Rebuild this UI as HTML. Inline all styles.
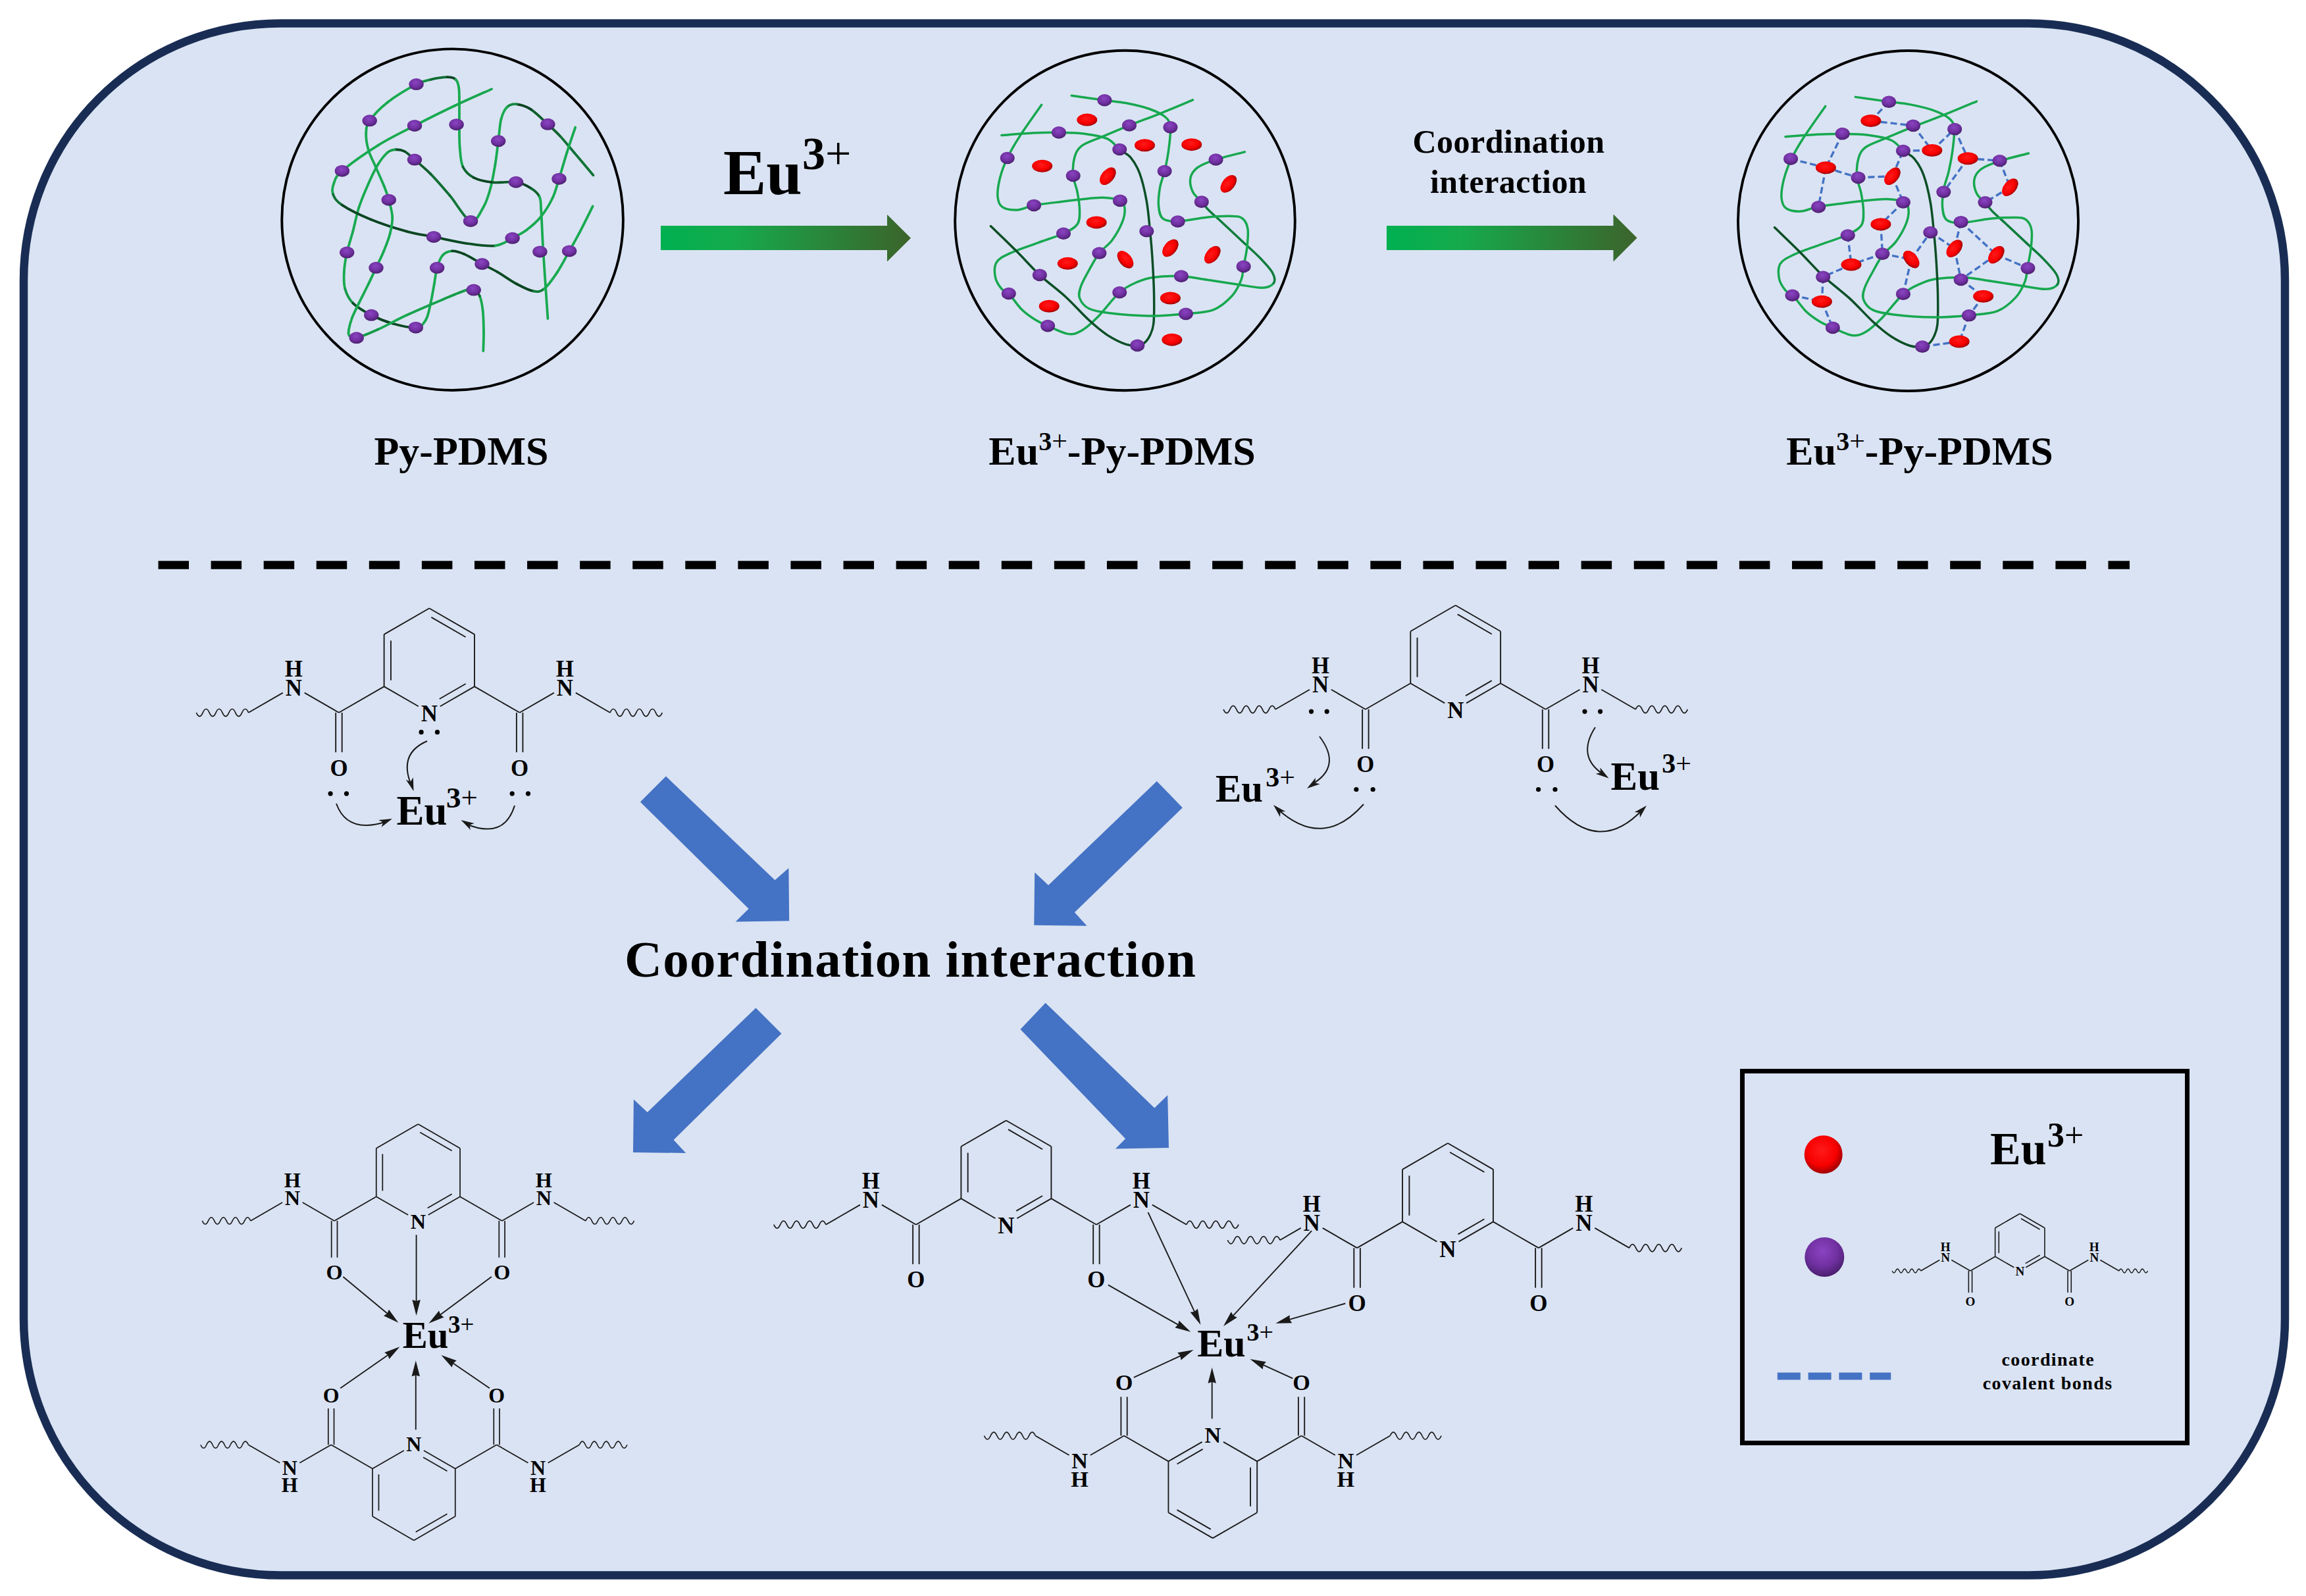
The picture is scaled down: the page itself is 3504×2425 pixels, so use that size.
<!DOCTYPE html>
<html><head><meta charset="utf-8"><style>html,body{margin:0;padding:0;background:#fff;}svg{display:block;}</style></head>
<body><svg width="3504" height="2425" viewBox="0 0 3504 2425">
<defs><radialGradient id="gp" cx="0.45" cy="0.35" r="0.65"><stop offset="0" stop-color="#8a44c2"/><stop offset="0.6" stop-color="#7030a0"/><stop offset="1" stop-color="#4a1f6e"/></radialGradient><radialGradient id="gr" cx="0.45" cy="0.4" r="0.6"><stop offset="0" stop-color="#ff1a1a"/><stop offset="0.65" stop-color="#f80000"/><stop offset="1" stop-color="#a00000"/></radialGradient><linearGradient id="ga1" x1="1004" y1="0" x2="1384" y2="0" gradientUnits="userSpaceOnUse"><stop offset="0" stop-color="#00b050"/><stop offset="0.3" stop-color="#16aa4c"/><stop offset="1" stop-color="#3c632b"/></linearGradient><linearGradient id="ga2" x1="2107" y1="0" x2="2487.5" y2="0" gradientUnits="userSpaceOnUse"><stop offset="0" stop-color="#00b050"/><stop offset="0.3" stop-color="#16aa4c"/><stop offset="1" stop-color="#3c632b"/></linearGradient></defs>
<path d="M426,35.5 L3082,35.5 A390,390 0 0 1 3472,425.5 L3472,2003.5 A390,390 0 0 1 3082,2393.5 L426,2393.5 A390,390 0 0 1 36,2003.5 L36,425.5 A390,390 0 0 1 426,35.5 Z" fill="#dae3f3" stroke="#192d54" stroke-width="12.5"/>
<circle cx="687.6" cy="333.7" r="259.3" fill="none" stroke="#000" stroke-width="3.9"/>
<g transform="translate(400,50) scale(0.36337)">
<g fill="none" stroke-width="10.46" stroke-linecap="round" stroke-linejoin="round">
<path d="M1380,595 C1366.7,579.2 1323.3,527.5 1300,500" stroke="#117336"/>
<path d="M1300,500 C1276.7,472.5 1258.3,449.7 1240,430" stroke="#117136"/>
<path d="M1240,430 C1221.7,410.3 1210.0,400.3 1190,382" stroke="#0f622f"/>
<path d="M1190,382 C1170.0,363.7 1141.7,334.0 1120,320" stroke="#0e5d2c"/>
<path d="M1120,320 C1098.3,306.0 1076.7,299.7 1060,298" stroke="#0b4321"/>
<path d="M1060,298 C1043.3,296.3 1030.8,299.7 1020,310" stroke="#148941"/>
<path d="M1020,310 C1009.2,320.3 1001.2,336.3 995,360" stroke="#18aa50"/>
<path d="M995,360 C988.8,383.7 987.2,420.3 983,452" stroke="#18aa50"/>
<path d="M983,452 C978.8,483.7 975.5,517.0 970,550" stroke="#18aa50"/>
<path d="M970,550 C964.5,583.0 958.3,620.0 950,650" stroke="#18aa50"/>
<path d="M950,650 C941.7,680.0 933.8,707.2 920,730" stroke="#18aa50"/>
<path d="M920,730 C906.2,752.8 890.3,795.3 867,787" stroke="#18aa50"/>
<path d="M867,787 C843.7,778.7 807.8,712.8 780,680" stroke="#117638"/>
<path d="M780,680 C752.2,647.2 724.5,615.0 700,590" stroke="#106e34"/>
<path d="M700,590 C675.5,565.0 651.3,545.8 633,530" stroke="#0e5d2d"/>
<path d="M633,530 C614.7,514.2 603.8,502.0 590,495" stroke="#0d572a"/>
<path d="M590,495 C576.2,488.0 561.7,487.2 550,488" stroke="#0b4923"/>
<path d="M550,488 C538.3,488.8 531.7,489.7 520,500" stroke="#169c49"/>
<path d="M520,500 C508.3,510.3 493.3,528.3 480,550" stroke="#18aa50"/>
<path d="M480,550 C466.7,571.7 453.3,600.0 440,630" stroke="#18aa50"/>
<path d="M440,630 C426.7,660.0 410.8,696.7 400,730" stroke="#18aa50"/>
<path d="M400,730 C389.2,763.3 383.3,798.7 375,830" stroke="#18aa50"/>
<path d="M375,830 C366.7,861.3 356.2,889.7 350,918" stroke="#18aa50"/>
<path d="M350,918 C343.8,946.3 339.3,974.7 338,1000" stroke="#18aa50"/>
<path d="M338,1000 C336.7,1025.3 335.8,1048.3 342,1070" stroke="#18aa50"/>
<path d="M342,1070 C348.2,1091.7 356.7,1111.7 375,1130" stroke="#169948"/>
<path d="M375,1130 C393.3,1148.3 424.5,1165.8 452,1180" stroke="#0c4d25"/>
<path d="M452,1180 C479.5,1194.2 509.0,1206.3 540,1215" stroke="#0b4421"/>
<path d="M540,1215 C571.0,1223.7 614.7,1234.5 638,1232" stroke="#0b4923"/>
<path d="M638,1232 C661.3,1229.5 669.7,1217.0 680,1200" stroke="#18aa50"/>
<path d="M680,1200 C690.3,1183.0 694.2,1155.0 700,1130" stroke="#18aa50"/>
<path d="M700,1130 C705.8,1105.0 710.5,1074.7 715,1050" stroke="#18aa50"/>
<path d="M715,1050 C719.5,1025.3 721.2,1002.0 727,982" stroke="#18aa50"/>
<path d="M727,982 C732.8,962.0 739.5,941.7 750,930" stroke="#18aa50"/>
<path d="M750,930 C760.5,918.3 775.0,912.8 790,912" stroke="#17a64e"/>
<path d="M790,912 C805.0,911.2 819.2,916.0 840,925" stroke="#0b4521"/>
<path d="M840,925 C860.8,934.0 891.7,953.5 915,966" stroke="#0b4822"/>
<path d="M915,966 C938.3,978.5 955.8,986.0 980,1000" stroke="#0b4722"/>
<path d="M980,1000 C1004.2,1014.0 1035.0,1036.7 1060,1050" stroke="#0c4b24"/>
<path d="M1060,1050 C1085.0,1063.3 1110.8,1076.7 1130,1080" stroke="#0b4421"/>
<path d="M1130,1080 C1149.2,1083.3 1158.3,1083.3 1175,1070" stroke="#127b3a"/>
<path d="M1175,1070 C1191.7,1056.7 1212.5,1026.3 1230,1000" stroke="#18aa50"/>
<path d="M1230,1000 C1247.5,973.7 1265.0,938.7 1280,912" stroke="#18aa50"/>
<path d="M1280,912 C1295.0,885.3 1303.7,871.2 1320,840" stroke="#18aa50"/>
<path d="M1320,840 C1336.3,808.8 1368.3,744.2 1378,725" stroke="#18aa50"/>
<path d="M955,235 C929.2,246.7 853.7,279.5 800,305" stroke="#18a64e"/>
<path d="M800,305 C746.3,330.5 686.3,360.5 633,388" stroke="#18aa50"/>
<path d="M633,388 C579.7,415.5 530.5,438.5 480,470" stroke="#18aa50"/>
<path d="M480,470 C429.5,501.5 360.8,550.3 330,577" stroke="#18aa50"/>
<path d="M330,577 C299.2,603.7 301.3,613.7 295,630" stroke="#18aa50"/>
<path d="M295,630 C288.7,646.3 286.2,660.0 292,675" stroke="#18aa50"/>
<path d="M292,675 C297.8,690.0 303.7,702.5 330,720" stroke="#117236"/>
<path d="M330,720 C356.3,737.5 405.0,761.7 450,780" stroke="#0b4622"/>
<path d="M450,780 C495.0,798.3 556.2,817.8 600,830" stroke="#0b4421"/>
<path d="M600,830 C643.8,842.2 671.3,844.7 713,853" stroke="#0b4722"/>
<path d="M713,853 C754.7,861.3 807.2,873.8 850,880" stroke="#0b4823"/>
<path d="M850,880 C892.8,886.2 938.0,893.7 970,890" stroke="#0c5026"/>
<path d="M970,890 C1002.0,886.3 1020.3,868.8 1042,858" stroke="#17a54e"/>
<path d="M1042,858 C1063.7,847.2 1080.3,839.7 1100,825" stroke="#18aa50"/>
<path d="M1100,825 C1119.7,810.3 1141.7,792.5 1160,770" stroke="#18aa50"/>
<path d="M1160,770 C1178.3,747.5 1197.2,716.7 1210,690" stroke="#18aa50"/>
<path d="M1210,690 C1222.8,663.3 1227.0,641.7 1237,610" stroke="#18aa50"/>
<path d="M1237,610 C1247.0,578.3 1258.7,535.8 1270,500" stroke="#18aa50"/>
<path d="M1270,500 C1281.3,464.2 1299.2,412.5 1305,395" stroke="#18aa50"/>
<path d="M920,1330 C920.3,1316.7 922.3,1278.3 922,1250" stroke="#18aa50"/>
<path d="M922,1250 C921.7,1221.7 920.8,1185.0 918,1160" stroke="#18aa50"/>
<path d="M918,1160 C915.2,1135.0 911.3,1114.2 905,1100" stroke="#18aa50"/>
<path d="M905,1100 C898.7,1085.8 889.2,1079.2 880,1075" stroke="#0f6530"/>
<path d="M880,1075 C870.8,1070.8 871.7,1068.3 850,1075" stroke="#0e592b"/>
<path d="M850,1075 C828.3,1081.7 791.7,1097.5 750,1115" stroke="#169c49"/>
<path d="M750,1115 C708.3,1132.5 645.0,1159.2 600,1180" stroke="#17a24d"/>
<path d="M600,1180 C555.0,1200.8 515.0,1224.2 480,1240" stroke="#18aa50"/>
<path d="M480,1240 C445.0,1255.8 410.0,1270.8 390,1275" stroke="#169a48"/>
<path d="M390,1275 C370.0,1279.2 365.3,1270.8 360,1265" stroke="#0b4421"/>
<path d="M360,1265 C354.7,1259.2 356.0,1252.5 358,1240" stroke="#18aa50"/>
<path d="M358,1240 C360.0,1227.5 365.0,1208.3 372,1190" stroke="#18aa50"/>
<path d="M372,1190 C379.0,1171.7 388.7,1153.3 400,1130" stroke="#18aa50"/>
<path d="M400,1130 C411.3,1106.7 428.0,1074.7 440,1050" stroke="#18aa50"/>
<path d="M440,1050 C452.0,1025.3 461.2,1005.3 472,982" stroke="#18aa50"/>
<path d="M472,982 C482.8,958.7 495.3,933.7 505,910" stroke="#18aa50"/>
<path d="M505,910 C514.7,886.3 524.2,863.3 530,840" stroke="#18aa50"/>
<path d="M530,840 C535.8,816.7 540.8,793.7 540,770" stroke="#18aa50"/>
<path d="M540,770 C539.2,746.3 530.8,719.7 525,698" stroke="#18aa50"/>
<path d="M525,698 C519.2,676.3 514.2,663.0 505,640" stroke="#18aa50"/>
<path d="M505,640 C495.8,617.0 480.8,585.0 470,560" stroke="#18aa50"/>
<path d="M470,560 C459.2,535.0 446.7,513.3 440,490" stroke="#18aa50"/>
<path d="M440,490 C433.3,466.7 429.2,440.5 430,420" stroke="#18aa50"/>
<path d="M430,420 C430.8,399.5 430.0,388.7 445,367" stroke="#18aa50"/>
<path d="M445,367 C460.0,345.3 487.5,315.3 520,290" stroke="#18aa50"/>
<path d="M520,290 C552.5,264.7 610.0,230.8 640,215" stroke="#18aa50"/>
<path d="M640,215 C670.0,199.2 678.3,200.0 700,195" stroke="#148f43"/>
<path d="M700,195 C721.7,190.0 752.5,185.0 770,185" stroke="#106e34"/>
<path d="M770,185 C787.5,185.0 797.0,187.5 805,195" stroke="#0b4421"/>
<path d="M805,195 C813.0,202.5 815.5,212.5 818,230" stroke="#18aa50"/>
<path d="M818,230 C820.5,247.5 819.7,271.7 820,300" stroke="#18aa50"/>
<path d="M820,300 C820.3,328.3 819.7,370.0 820,400" stroke="#18aa50"/>
<path d="M820,400 C820.3,430.0 819.5,453.3 822,480" stroke="#18aa50"/>
<path d="M822,480 C824.5,506.7 825.3,539.2 835,560" stroke="#18aa50"/>
<path d="M835,560 C844.7,580.8 859.2,594.2 880,605" stroke="#0f6530"/>
<path d="M880,605 C900.8,615.8 930.5,621.8 960,625" stroke="#0b4521"/>
<path d="M960,625 C989.5,628.2 1030.3,619.8 1057,624" stroke="#0e5b2b"/>
<path d="M1057,624 C1083.7,628.2 1103.7,639.8 1120,650" stroke="#0b4421"/>
<path d="M1120,650 C1136.3,660.2 1148.0,670.0 1155,685" stroke="#0f6530"/>
<path d="M1155,685 C1162.0,700.0 1159.5,704.2 1162,740" stroke="#18aa50"/>
<path d="M1162,740 C1164.5,775.8 1167.0,848.3 1170,900" stroke="#18aa50"/>
<path d="M1170,900 C1173.0,951.7 1176.7,1000.8 1180,1050" stroke="#18aa50"/>
<path d="M1180,1050 C1183.3,1099.2 1188.3,1170.8 1190,1195" stroke="#18aa50"/>
</g>
<ellipse cx="640" cy="215" rx="30.822399999999995" ry="24.767999999999997" fill="url(#gp)"/>
<ellipse cx="445" cy="367" rx="30.822399999999995" ry="24.767999999999997" fill="url(#gp)"/>
<ellipse cx="633" cy="388" rx="30.822399999999995" ry="24.767999999999997" fill="url(#gp)"/>
<ellipse cx="808" cy="383" rx="30.822399999999995" ry="24.767999999999997" fill="url(#gp)"/>
<ellipse cx="1190" cy="382" rx="30.822399999999995" ry="24.767999999999997" fill="url(#gp)"/>
<ellipse cx="983" cy="452" rx="30.822399999999995" ry="24.767999999999997" fill="url(#gp)"/>
<ellipse cx="330" cy="577" rx="30.822399999999995" ry="24.767999999999997" fill="url(#gp)"/>
<ellipse cx="633" cy="530" rx="30.822399999999995" ry="24.767999999999997" fill="url(#gp)"/>
<ellipse cx="1057" cy="624" rx="30.822399999999995" ry="24.767999999999997" fill="url(#gp)"/>
<ellipse cx="1237" cy="610" rx="30.822399999999995" ry="24.767999999999997" fill="url(#gp)"/>
<ellipse cx="525" cy="698" rx="30.822399999999995" ry="24.767999999999997" fill="url(#gp)"/>
<ellipse cx="867" cy="787" rx="30.822399999999995" ry="24.767999999999997" fill="url(#gp)"/>
<ellipse cx="713" cy="853" rx="30.822399999999995" ry="24.767999999999997" fill="url(#gp)"/>
<ellipse cx="1042" cy="858" rx="30.822399999999995" ry="24.767999999999997" fill="url(#gp)"/>
<ellipse cx="350" cy="918" rx="30.822399999999995" ry="24.767999999999997" fill="url(#gp)"/>
<ellipse cx="1157" cy="915" rx="30.822399999999995" ry="24.767999999999997" fill="url(#gp)"/>
<ellipse cx="1280" cy="912" rx="30.822399999999995" ry="24.767999999999997" fill="url(#gp)"/>
<ellipse cx="472" cy="982" rx="30.822399999999995" ry="24.767999999999997" fill="url(#gp)"/>
<ellipse cx="727" cy="982" rx="30.822399999999995" ry="24.767999999999997" fill="url(#gp)"/>
<ellipse cx="915" cy="966" rx="30.822399999999995" ry="24.767999999999997" fill="url(#gp)"/>
<ellipse cx="880" cy="1075" rx="30.822399999999995" ry="24.767999999999997" fill="url(#gp)"/>
<ellipse cx="452" cy="1180" rx="30.822399999999995" ry="24.767999999999997" fill="url(#gp)"/>
<ellipse cx="638" cy="1232" rx="30.822399999999995" ry="24.767999999999997" fill="url(#gp)"/>
<ellipse cx="390" cy="1275" rx="30.822399999999995" ry="24.767999999999997" fill="url(#gp)"/>
</g>
<circle cx="1709.5" cy="335" r="258.3" fill="none" stroke="#000" stroke-width="3.9"/>
<g transform="translate(1430,60) scale(0.35088)">
<g fill="none" stroke-width="9.97" stroke-linecap="round" stroke-linejoin="round">
<path d="M1090,262 C1066.7,271.7 995.8,301.7 950,320 C904.2,338.3 856.7,355.3 815,372 C773.3,388.7 734.2,405.3 700,420 C665.8,434.7 630.3,445.0 610,460 C589.7,475.0 584.3,488.3 578,510 C571.7,531.7 570.0,565.0 572,590 C574.0,615.0 585.3,635.0 590,660 C594.7,685.0 600.0,716.7 600,740 C600.0,763.3 601.7,783.3 590,800 C578.3,816.7 558.3,826.7 530,840 C501.7,853.3 458.3,865.8 420,880 C381.7,894.2 330.0,910.8 300,925 C270.0,939.2 250.8,947.5 240,965 C229.2,982.5 231.3,1010.8 235,1030 C238.7,1049.2 252.3,1068.3 262,1080 C271.7,1091.7 278.3,1085.0 293,1100 C307.7,1115.0 330.5,1150.8 350,1170 C369.5,1189.2 391.3,1203.3 410,1215 C428.7,1226.7 438.7,1230.0 462,1240 C485.3,1250.0 525.3,1271.7 550,1275 C574.7,1278.3 588.3,1272.5 610,1260 C631.7,1247.5 652.8,1227.5 680,1200 C707.2,1172.5 744.7,1120.0 773,1095 C801.3,1070.0 825.5,1060.8 850,1050 C874.5,1039.2 888.3,1034.2 920,1030 C951.7,1025.8 1001.7,1023.3 1040,1025 C1078.3,1026.7 1110.0,1034.2 1150,1040 C1190.0,1045.8 1240.0,1054.2 1280,1060 C1320.0,1065.8 1363.3,1075.8 1390,1075 C1416.7,1074.2 1432.5,1065.8 1440,1055" stroke="#17a84f"/>
<path d="M1440,1055 C1447.5,1044.2 1445.0,1028.3 1435,1010 C1425.0,991.7 1402.5,968.3 1380,945 C1357.5,921.7 1326.7,895.0 1300,870 C1273.3,845.0 1243.3,816.7 1220,795 C1196.7,773.3 1175.3,755.3 1160,740 C1144.7,724.7 1139.7,716.3 1128,703" stroke="#0f7d3b"/>
<path d="M1128,703 C1116.3,689.7 1098.0,677.2 1090,660 C1082.0,642.8 1076.7,617.5 1080,600 C1083.3,582.5 1091.7,568.3 1110,555 C1128.3,541.7 1155.8,531.3 1190,520 C1224.2,508.7 1294.2,492.5 1315,487" stroke="#17a84f"/>
<path d="M262,415 C285.0,413.3 358.7,407.0 400,405 C441.3,403.0 473.3,402.5 510,403 C546.7,403.5 585.0,403.5 620,408 C655.0,412.5 694.5,418.7 720,430 C745.5,441.3 756.3,462.7 773,476" stroke="#17a84f"/>
<path d="M773,476 C789.7,489.3 805.5,492.7 820,510 C834.5,527.3 848.3,548.3 860,580 C871.7,611.7 882.5,658.3 890,700 C897.5,741.7 900.8,788.3 905,830 C909.2,871.7 912.2,905.0 915,950 C917.8,995.0 921.2,1053.3 922,1100 C922.8,1146.7 923.7,1198.3 920,1230 C916.3,1261.7 908.3,1274.7 900,1290 C891.7,1305.3 878.3,1316.2 870,1322 C861.7,1327.8 861.7,1325.3 850,1325 C838.3,1324.7 821.7,1327.5 800,1320 C778.3,1312.5 746.7,1297.5 720,1280 C693.3,1262.5 670.0,1242.5 640,1215 C610.0,1187.5 575.5,1147.5 540,1115 C504.5,1082.5 462.0,1052.5 427,1020 C392.0,987.5 365.3,955.3 330,920 C294.7,884.7 234.2,826.7 215,808" stroke="#0c4f26"/>
<path d="M435,283 C419.2,305.8 364.7,381.7 340,420 C315.3,458.3 301.2,483.0 287,513 C272.8,543.0 262.0,572.2 255,600 C248.0,627.8 243.3,659.2 245,680 C246.7,700.8 250.8,715.3 265,725 C279.2,734.7 307.2,739.2 330,738 C352.8,736.8 373.7,723.5 402,718 C430.3,712.5 467.0,709.2 500,705 C533.0,700.8 566.7,696.3 600,693 C633.3,689.7 670.8,684.2 700,685 C729.2,685.8 759.2,690.5 775,698 C790.8,705.5 793.3,714.7 795,730 C796.7,745.3 794.2,766.7 785,790 C775.8,813.3 756.7,847.5 740,870 C723.3,892.5 701.7,903.3 685,925 C668.3,946.7 653.3,975.8 640,1000 C626.7,1024.2 611.7,1050.0 605,1070 C598.3,1090.0 594.2,1104.2 600,1120 C605.8,1135.8 618.3,1154.2 640,1165 C661.7,1175.8 686.7,1179.7 730,1185 C773.3,1190.3 845.0,1196.5 900,1197 C955.0,1197.5 1013.3,1192.5 1060,1188 C1106.7,1183.5 1146.7,1183.0 1180,1170 C1213.3,1157.0 1240.0,1131.7 1260,1110 C1280.0,1088.3 1291.7,1061.2 1300,1040 C1308.3,1018.8 1305.8,1006.3 1310,983 C1314.2,959.7 1322.0,927.2 1325,900 C1328.0,872.8 1331.3,840.8 1328,820 C1324.7,799.2 1316.3,784.2 1305,775 C1293.7,765.8 1285.8,765.8 1260,765 C1234.2,764.2 1189.2,766.2 1150,770 C1110.8,773.8 1056.7,787.2 1025,788 C993.3,788.8 973.8,786.3 960,775 C946.2,763.7 944.0,742.5 942,720 C940.0,697.5 943.7,665.0 948,640 C952.3,615.0 961.8,596.7 968,570 C974.2,543.3 980.8,511.7 985,480 C989.2,448.3 995.5,404.2 993,380 C990.5,355.8 985.5,348.3 970,335 C954.5,321.7 928.3,310.0 900,300 C871.7,290.0 832.0,281.2 800,275 C768.0,268.8 747.2,268.3 708,263 C668.8,257.7 588.8,246.3 565,243" stroke="#17a84f"/>
</g>
<ellipse cx="0" cy="0" rx="44.175000000000004" ry="27.075" fill="url(#gr)" transform="translate(632,348) rotate(0)"/>
<ellipse cx="0" cy="0" rx="44.175000000000004" ry="27.075" fill="url(#gr)" transform="translate(882,458) rotate(0)"/>
<ellipse cx="0" cy="0" rx="44.175000000000004" ry="27.075" fill="url(#gr)" transform="translate(1085,455) rotate(0)"/>
<ellipse cx="0" cy="0" rx="44.175000000000004" ry="27.075" fill="url(#gr)" transform="translate(438,548) rotate(0)"/>
<ellipse cx="0" cy="0" rx="44.175000000000004" ry="27.075" fill="url(#gr)" transform="translate(722,592) rotate(-50)"/>
<ellipse cx="0" cy="0" rx="44.175000000000004" ry="27.075" fill="url(#gr)" transform="translate(1245,625) rotate(-50)"/>
<ellipse cx="0" cy="0" rx="44.175000000000004" ry="27.075" fill="url(#gr)" transform="translate(673,792) rotate(0)"/>
<ellipse cx="0" cy="0" rx="44.175000000000004" ry="27.075" fill="url(#gr)" transform="translate(993,903) rotate(-50)"/>
<ellipse cx="0" cy="0" rx="44.175000000000004" ry="27.075" fill="url(#gr)" transform="translate(1175,932) rotate(-50)"/>
<ellipse cx="0" cy="0" rx="44.175000000000004" ry="27.075" fill="url(#gr)" transform="translate(798,953) rotate(50)"/>
<ellipse cx="0" cy="0" rx="44.175000000000004" ry="27.075" fill="url(#gr)" transform="translate(548,970) rotate(0)"/>
<ellipse cx="0" cy="0" rx="44.175000000000004" ry="27.075" fill="url(#gr)" transform="translate(993,1120) rotate(0)"/>
<ellipse cx="0" cy="0" rx="44.175000000000004" ry="27.075" fill="url(#gr)" transform="translate(468,1155) rotate(0)"/>
<ellipse cx="0" cy="0" rx="44.175000000000004" ry="27.075" fill="url(#gr)" transform="translate(1000,1300) rotate(0)"/>
<ellipse cx="708" cy="263" rx="31.35" ry="26.505000000000003" fill="url(#gp)"/>
<ellipse cx="815" cy="372" rx="31.35" ry="26.505000000000003" fill="url(#gp)"/>
<ellipse cx="993" cy="380" rx="31.35" ry="26.505000000000003" fill="url(#gp)"/>
<ellipse cx="510" cy="403" rx="31.35" ry="26.505000000000003" fill="url(#gp)"/>
<ellipse cx="773" cy="476" rx="31.35" ry="26.505000000000003" fill="url(#gp)"/>
<ellipse cx="287" cy="513" rx="31.35" ry="26.505000000000003" fill="url(#gp)"/>
<ellipse cx="1190" cy="520" rx="31.35" ry="26.505000000000003" fill="url(#gp)"/>
<ellipse cx="572" cy="590" rx="31.35" ry="26.505000000000003" fill="url(#gp)"/>
<ellipse cx="968" cy="570" rx="31.35" ry="26.505000000000003" fill="url(#gp)"/>
<ellipse cx="1128" cy="703" rx="31.35" ry="26.505000000000003" fill="url(#gp)"/>
<ellipse cx="402" cy="718" rx="31.35" ry="26.505000000000003" fill="url(#gp)"/>
<ellipse cx="775" cy="698" rx="31.35" ry="26.505000000000003" fill="url(#gp)"/>
<ellipse cx="1025" cy="788" rx="31.35" ry="26.505000000000003" fill="url(#gp)"/>
<ellipse cx="530" cy="840" rx="31.35" ry="26.505000000000003" fill="url(#gp)"/>
<ellipse cx="890" cy="830" rx="31.35" ry="26.505000000000003" fill="url(#gp)"/>
<ellipse cx="685" cy="925" rx="31.35" ry="26.505000000000003" fill="url(#gp)"/>
<ellipse cx="1310" cy="983" rx="31.35" ry="26.505000000000003" fill="url(#gp)"/>
<ellipse cx="427" cy="1020" rx="31.35" ry="26.505000000000003" fill="url(#gp)"/>
<ellipse cx="1040" cy="1025" rx="31.35" ry="26.505000000000003" fill="url(#gp)"/>
<ellipse cx="293" cy="1100" rx="31.35" ry="26.505000000000003" fill="url(#gp)"/>
<ellipse cx="773" cy="1095" rx="31.35" ry="26.505000000000003" fill="url(#gp)"/>
<ellipse cx="1060" cy="1188" rx="31.35" ry="26.505000000000003" fill="url(#gp)"/>
<ellipse cx="462" cy="1240" rx="31.35" ry="26.505000000000003" fill="url(#gp)"/>
<ellipse cx="850" cy="1325" rx="31.35" ry="26.505000000000003" fill="url(#gp)"/>
</g>
<circle cx="2899.5" cy="335.5" r="258.5" fill="none" stroke="#000" stroke-width="3.9"/>
<g transform="translate(2620,60) scale(0.35088)">
<g transform="translate(3,6)"><g fill="none" stroke-width="9.97" stroke-linecap="round" stroke-linejoin="round">
<path d="M1090,262 C1066.7,271.7 995.8,301.7 950,320 C904.2,338.3 856.7,355.3 815,372 C773.3,388.7 734.2,405.3 700,420 C665.8,434.7 630.3,445.0 610,460 C589.7,475.0 584.3,488.3 578,510 C571.7,531.7 570.0,565.0 572,590 C574.0,615.0 585.3,635.0 590,660 C594.7,685.0 600.0,716.7 600,740 C600.0,763.3 601.7,783.3 590,800 C578.3,816.7 558.3,826.7 530,840 C501.7,853.3 458.3,865.8 420,880 C381.7,894.2 330.0,910.8 300,925 C270.0,939.2 250.8,947.5 240,965 C229.2,982.5 231.3,1010.8 235,1030 C238.7,1049.2 252.3,1068.3 262,1080 C271.7,1091.7 278.3,1085.0 293,1100 C307.7,1115.0 330.5,1150.8 350,1170 C369.5,1189.2 391.3,1203.3 410,1215 C428.7,1226.7 438.7,1230.0 462,1240 C485.3,1250.0 525.3,1271.7 550,1275 C574.7,1278.3 588.3,1272.5 610,1260 C631.7,1247.5 652.8,1227.5 680,1200 C707.2,1172.5 744.7,1120.0 773,1095 C801.3,1070.0 825.5,1060.8 850,1050 C874.5,1039.2 888.3,1034.2 920,1030 C951.7,1025.8 1001.7,1023.3 1040,1025 C1078.3,1026.7 1110.0,1034.2 1150,1040 C1190.0,1045.8 1240.0,1054.2 1280,1060 C1320.0,1065.8 1363.3,1075.8 1390,1075 C1416.7,1074.2 1432.5,1065.8 1440,1055" stroke="#17a84f"/>
<path d="M1440,1055 C1447.5,1044.2 1445.0,1028.3 1435,1010 C1425.0,991.7 1402.5,968.3 1380,945 C1357.5,921.7 1326.7,895.0 1300,870 C1273.3,845.0 1243.3,816.7 1220,795 C1196.7,773.3 1175.3,755.3 1160,740 C1144.7,724.7 1139.7,716.3 1128,703" stroke="#0f7d3b"/>
<path d="M1128,703 C1116.3,689.7 1098.0,677.2 1090,660 C1082.0,642.8 1076.7,617.5 1080,600 C1083.3,582.5 1091.7,568.3 1110,555 C1128.3,541.7 1155.8,531.3 1190,520 C1224.2,508.7 1294.2,492.5 1315,487" stroke="#17a84f"/>
<path d="M262,415 C285.0,413.3 358.7,407.0 400,405 C441.3,403.0 473.3,402.5 510,403 C546.7,403.5 585.0,403.5 620,408 C655.0,412.5 694.5,418.7 720,430 C745.5,441.3 756.3,462.7 773,476" stroke="#17a84f"/>
<path d="M773,476 C789.7,489.3 805.5,492.7 820,510 C834.5,527.3 848.3,548.3 860,580 C871.7,611.7 882.5,658.3 890,700 C897.5,741.7 900.8,788.3 905,830 C909.2,871.7 912.2,905.0 915,950 C917.8,995.0 921.2,1053.3 922,1100 C922.8,1146.7 923.7,1198.3 920,1230 C916.3,1261.7 908.3,1274.7 900,1290 C891.7,1305.3 878.3,1316.2 870,1322 C861.7,1327.8 861.7,1325.3 850,1325 C838.3,1324.7 821.7,1327.5 800,1320 C778.3,1312.5 746.7,1297.5 720,1280 C693.3,1262.5 670.0,1242.5 640,1215 C610.0,1187.5 575.5,1147.5 540,1115 C504.5,1082.5 462.0,1052.5 427,1020 C392.0,987.5 365.3,955.3 330,920 C294.7,884.7 234.2,826.7 215,808" stroke="#0c4f26"/>
<path d="M435,283 C419.2,305.8 364.7,381.7 340,420 C315.3,458.3 301.2,483.0 287,513 C272.8,543.0 262.0,572.2 255,600 C248.0,627.8 243.3,659.2 245,680 C246.7,700.8 250.8,715.3 265,725 C279.2,734.7 307.2,739.2 330,738 C352.8,736.8 373.7,723.5 402,718 C430.3,712.5 467.0,709.2 500,705 C533.0,700.8 566.7,696.3 600,693 C633.3,689.7 670.8,684.2 700,685 C729.2,685.8 759.2,690.5 775,698 C790.8,705.5 793.3,714.7 795,730 C796.7,745.3 794.2,766.7 785,790 C775.8,813.3 756.7,847.5 740,870 C723.3,892.5 701.7,903.3 685,925 C668.3,946.7 653.3,975.8 640,1000 C626.7,1024.2 611.7,1050.0 605,1070 C598.3,1090.0 594.2,1104.2 600,1120 C605.8,1135.8 618.3,1154.2 640,1165 C661.7,1175.8 686.7,1179.7 730,1185 C773.3,1190.3 845.0,1196.5 900,1197 C955.0,1197.5 1013.3,1192.5 1060,1188 C1106.7,1183.5 1146.7,1183.0 1180,1170 C1213.3,1157.0 1240.0,1131.7 1260,1110 C1280.0,1088.3 1291.7,1061.2 1300,1040 C1308.3,1018.8 1305.8,1006.3 1310,983 C1314.2,959.7 1322.0,927.2 1325,900 C1328.0,872.8 1331.3,840.8 1328,820 C1324.7,799.2 1316.3,784.2 1305,775 C1293.7,765.8 1285.8,765.8 1260,765 C1234.2,764.2 1189.2,766.2 1150,770 C1110.8,773.8 1056.7,787.2 1025,788 C993.3,788.8 973.8,786.3 960,775 C946.2,763.7 944.0,742.5 942,720 C940.0,697.5 943.7,665.0 948,640 C952.3,615.0 961.8,596.7 968,570 C974.2,543.3 980.8,511.7 985,480 C989.2,448.3 995.5,404.2 993,380 C990.5,355.8 985.5,348.3 970,335 C954.5,321.7 928.3,310.0 900,300 C871.7,290.0 832.0,281.2 800,275 C768.0,268.8 747.2,268.3 708,263 C668.8,257.7 588.8,246.3 565,243" stroke="#17a84f"/>
</g></g>
<path d="M713,270 L635,352 M635,352 L818,373 M818,373 L900,480 M900,480 L998,388 M775,482 L900,480 M998,388 L1055,515 M1055,515 L1193,525 M1193,525 L1238,640 M1238,640 L1130,705 M1055,515 L950,660 M512,408 L440,555 M288,517 L440,555 M440,555 L580,598 M440,555 L408,725 M580,598 L728,592 M728,592 L775,482 M728,592 L775,705 M775,705 L678,800 M678,800 L685,928 M685,928 L550,975 M535,848 L550,975 M550,975 L428,1028 M685,928 L810,952 M810,952 L893,835 M810,952 L775,1102 M893,835 L997,905 M1025,790 L997,905 M997,905 L1025,1040 M1025,790 L1178,932 M1178,932 L1315,990 M1178,932 L1025,1040 M1025,1040 L1122,1112 M1122,1112 L1060,1195 M1060,1195 L1018,1308 M1018,1308 L858,1330 M428,1028 L423,1135 M295,1108 L423,1135 M423,1135 L470,1248" fill="none" stroke="#4472c4" stroke-width="9.7" stroke-dasharray="28.5 14.2"/>
<ellipse cx="0" cy="0" rx="44.175000000000004" ry="27.075" fill="url(#gr)" transform="translate(635,352) rotate(0)"/>
<ellipse cx="0" cy="0" rx="44.175000000000004" ry="27.075" fill="url(#gr)" transform="translate(900,480) rotate(0)"/>
<ellipse cx="0" cy="0" rx="44.175000000000004" ry="27.075" fill="url(#gr)" transform="translate(1055,515) rotate(0)"/>
<ellipse cx="0" cy="0" rx="44.175000000000004" ry="27.075" fill="url(#gr)" transform="translate(440,555) rotate(0)"/>
<ellipse cx="0" cy="0" rx="44.175000000000004" ry="27.075" fill="url(#gr)" transform="translate(728,592) rotate(-50)"/>
<ellipse cx="0" cy="0" rx="44.175000000000004" ry="27.075" fill="url(#gr)" transform="translate(1238,640) rotate(-50)"/>
<ellipse cx="0" cy="0" rx="44.175000000000004" ry="27.075" fill="url(#gr)" transform="translate(678,800) rotate(0)"/>
<ellipse cx="0" cy="0" rx="44.175000000000004" ry="27.075" fill="url(#gr)" transform="translate(997,905) rotate(-50)"/>
<ellipse cx="0" cy="0" rx="44.175000000000004" ry="27.075" fill="url(#gr)" transform="translate(1178,932) rotate(-50)"/>
<ellipse cx="0" cy="0" rx="44.175000000000004" ry="27.075" fill="url(#gr)" transform="translate(810,952) rotate(50)"/>
<ellipse cx="0" cy="0" rx="44.175000000000004" ry="27.075" fill="url(#gr)" transform="translate(550,975) rotate(0)"/>
<ellipse cx="0" cy="0" rx="44.175000000000004" ry="27.075" fill="url(#gr)" transform="translate(1122,1112) rotate(0)"/>
<ellipse cx="0" cy="0" rx="44.175000000000004" ry="27.075" fill="url(#gr)" transform="translate(423,1135) rotate(0)"/>
<ellipse cx="0" cy="0" rx="44.175000000000004" ry="27.075" fill="url(#gr)" transform="translate(1018,1308) rotate(0)"/>
<ellipse cx="713" cy="270" rx="31.35" ry="26.505000000000003" fill="url(#gp)"/>
<ellipse cx="818" cy="373" rx="31.35" ry="26.505000000000003" fill="url(#gp)"/>
<ellipse cx="998" cy="388" rx="31.35" ry="26.505000000000003" fill="url(#gp)"/>
<ellipse cx="512" cy="408" rx="31.35" ry="26.505000000000003" fill="url(#gp)"/>
<ellipse cx="775" cy="482" rx="31.35" ry="26.505000000000003" fill="url(#gp)"/>
<ellipse cx="288" cy="517" rx="31.35" ry="26.505000000000003" fill="url(#gp)"/>
<ellipse cx="1193" cy="525" rx="31.35" ry="26.505000000000003" fill="url(#gp)"/>
<ellipse cx="580" cy="598" rx="31.35" ry="26.505000000000003" fill="url(#gp)"/>
<ellipse cx="950" cy="660" rx="31.35" ry="26.505000000000003" fill="url(#gp)"/>
<ellipse cx="1130" cy="705" rx="31.35" ry="26.505000000000003" fill="url(#gp)"/>
<ellipse cx="408" cy="725" rx="31.35" ry="26.505000000000003" fill="url(#gp)"/>
<ellipse cx="775" cy="705" rx="31.35" ry="26.505000000000003" fill="url(#gp)"/>
<ellipse cx="1025" cy="790" rx="31.35" ry="26.505000000000003" fill="url(#gp)"/>
<ellipse cx="535" cy="848" rx="31.35" ry="26.505000000000003" fill="url(#gp)"/>
<ellipse cx="893" cy="835" rx="31.35" ry="26.505000000000003" fill="url(#gp)"/>
<ellipse cx="685" cy="928" rx="31.35" ry="26.505000000000003" fill="url(#gp)"/>
<ellipse cx="1315" cy="990" rx="31.35" ry="26.505000000000003" fill="url(#gp)"/>
<ellipse cx="428" cy="1028" rx="31.35" ry="26.505000000000003" fill="url(#gp)"/>
<ellipse cx="1025" cy="1040" rx="31.35" ry="26.505000000000003" fill="url(#gp)"/>
<ellipse cx="295" cy="1108" rx="31.35" ry="26.505000000000003" fill="url(#gp)"/>
<ellipse cx="775" cy="1102" rx="31.35" ry="26.505000000000003" fill="url(#gp)"/>
<ellipse cx="1060" cy="1195" rx="31.35" ry="26.505000000000003" fill="url(#gp)"/>
<ellipse cx="470" cy="1248" rx="31.35" ry="26.505000000000003" fill="url(#gp)"/>
<ellipse cx="858" cy="1330" rx="31.35" ry="26.505000000000003" fill="url(#gp)"/>
</g>
<path d="M1004,343 L1348,343 L1348,326 L1384,361.75 L1348,397.5 L1348,380 L1004,380 Z" fill="url(#ga1)"/>
<path d="M2107,343 L2451.5,343 L2451.5,325.5 L2487.5,361.5 L2451.5,397.5 L2451.5,380 L2107,380 Z" fill="url(#ga2)"/>
<text x="1099" y="295.4" font-family="Liberation Serif" font-weight="bold" font-size="98" text-anchor="start" >Eu</text>
<text x="1219" y="257.4" font-family="Liberation Serif" font-weight="bold" font-size="70">3<tspan font-weight="normal">+</tspan></text>
<text x="2292.5" y="232" font-family="Liberation Serif" font-weight="bold" font-size="50" text-anchor="middle" letter-spacing="0.5">Coordination</text>
<text x="2292" y="293" font-family="Liberation Serif" font-weight="bold" font-size="50" text-anchor="middle" letter-spacing="0.45">interaction</text>
<text x="701" y="705.6" font-family="Liberation Serif" font-weight="bold" font-size="62" text-anchor="middle" >Py-PDMS</text>
<text x="1705" y="705.6" font-family="Liberation Serif" font-weight="bold" font-size="62" text-anchor="middle">Eu<tspan font-size="40" dy="-22">3</tspan><tspan font-size="42" font-weight="normal">+</tspan><tspan dy="22">-Py-PDMS</tspan></text>
<text x="2917" y="705.6" font-family="Liberation Serif" font-weight="bold" font-size="62" text-anchor="middle">Eu<tspan font-size="40" dy="-22">3</tspan><tspan font-size="42" font-weight="normal">+</tspan><tspan dy="22">-Py-PDMS</tspan></text>
<line x1="240.5" y1="858.5" x2="3236" y2="858.5" stroke="#000" stroke-width="12.5" stroke-dasharray="46.5 33.58"/>
<polygon points="1011.9,1179.5 1177.5,1337.3 1198.4,1319.1 1199.2,1399.3 1117.7,1400.6 1137.6,1380.7 972.9,1218.5" fill="#4472c4"/>
<polygon points="1757.8,1186.9 1796.8,1227.2 1632.9,1386.3 1651.5,1406.7 1571.3,1405.8 1572.2,1325.6 1593,1345.1" fill="#4472c4"/>
<polygon points="1148.5,1531.6 1187.5,1570.6 1023.6,1732 1042.2,1751.9 962,1751 962.9,1670.4 983.7,1690" fill="#4472c4"/>
<polygon points="1588.6,1523.8 1550.5,1564.1 1710.1,1730.2 1694.9,1745.4 1776,1744.1 1774.2,1663.9 1754.3,1683.4" fill="#4472c4"/>
<text x="1383.6" y="1484" font-family="Liberation Serif" font-weight="bold" font-size="79" text-anchor="middle" letter-spacing="1.2">Coordination interaction</text>
<line x1="652.3" y1="924.2" x2="720.98" y2="963.85" stroke="#1a1a1a" stroke-width="1.9" />
<line x1="720.98" y1="963.85" x2="720.98" y2="1043.15" stroke="#1a1a1a" stroke-width="1.9" />
<line x1="720.98" y1="1043.15" x2="668.78" y2="1073.28" stroke="#1a1a1a" stroke-width="1.9" />
<line x1="635.82" y1="1073.28" x2="583.62" y2="1043.15" stroke="#1a1a1a" stroke-width="1.9" />
<line x1="583.62" y1="1043.15" x2="583.62" y2="963.85" stroke="#1a1a1a" stroke-width="1.9" />
<line x1="583.62" y1="963.85" x2="652.3" y2="924.2" stroke="#1a1a1a" stroke-width="1.9" />
<line x1="655.39" y1="937.89" x2="707.58" y2="968.02" stroke="#1a1a1a" stroke-width="1.9" />
<line x1="593.93" y1="973.37" x2="593.93" y2="1033.63" stroke="#1a1a1a" stroke-width="1.9" />
<line x1="667.75" y1="1061.98" x2="707.58" y2="1038.98" stroke="#1a1a1a" stroke-width="1.9" />
<line x1="583.62" y1="1043.15" x2="514.95" y2="1082.8" stroke="#1a1a1a" stroke-width="1.9" />
<line x1="514.95" y1="1082.8" x2="462.75" y2="1052.67" stroke="#1a1a1a" stroke-width="1.9" />
<line x1="429.79" y1="1052.67" x2="377.6" y2="1082.8" stroke="#1a1a1a" stroke-width="1.9" />
<line x1="510.19" y1="1082.8" x2="510.19" y2="1143.07" stroke="#1a1a1a" stroke-width="1.9" />
<line x1="519.71" y1="1082.8" x2="519.71" y2="1143.07" stroke="#1a1a1a" stroke-width="1.9" />
<path d="M377.6,1082.8 Q372.64,1071.7 367.68,1082.8 Q362.73,1093.9 357.77,1082.8 Q352.82,1071.7 347.86,1082.8 Q342.9,1093.9 337.95,1082.8 Q332.99,1071.7 328.03,1082.8 Q323.08,1093.9 318.12,1082.8 Q313.17,1071.7 308.21,1082.8 Q303.25,1093.9 298.3,1082.8" fill="none" stroke="#1a1a1a" stroke-width="1.71"/>
<text x="514.95" y="1178.71" font-family="Liberation Serif" font-weight="bold" font-size="34.89" text-anchor="middle" >O</text>
<text x="446.27" y="1056.58" font-family="Liberation Serif" font-weight="bold" font-size="34.89" text-anchor="middle" >N</text>
<text x="446.27" y="1028.04" font-family="Liberation Serif" font-weight="bold" font-size="34.89" text-anchor="middle" >H</text>
<line x1="720.98" y1="1043.15" x2="789.65" y2="1082.8" stroke="#1a1a1a" stroke-width="1.9" />
<line x1="789.65" y1="1082.8" x2="841.85" y2="1052.67" stroke="#1a1a1a" stroke-width="1.9" />
<line x1="874.81" y1="1052.67" x2="927" y2="1082.8" stroke="#1a1a1a" stroke-width="1.9" />
<line x1="784.89" y1="1082.8" x2="784.89" y2="1143.07" stroke="#1a1a1a" stroke-width="1.9" />
<line x1="794.41" y1="1082.8" x2="794.41" y2="1143.07" stroke="#1a1a1a" stroke-width="1.9" />
<path d="M927,1082.8 Q931.96,1071.7 936.92,1082.8 Q941.87,1093.9 946.83,1082.8 Q951.78,1071.7 956.74,1082.8 Q961.7,1093.9 966.65,1082.8 Q971.61,1071.7 976.57,1082.8 Q981.52,1093.9 986.48,1082.8 Q991.43,1071.7 996.39,1082.8 Q1001.35,1093.9 1006.3,1082.8" fill="none" stroke="#1a1a1a" stroke-width="1.71"/>
<text x="789.65" y="1178.71" font-family="Liberation Serif" font-weight="bold" font-size="34.89" text-anchor="middle" >O</text>
<text x="858.33" y="1056.58" font-family="Liberation Serif" font-weight="bold" font-size="34.89" text-anchor="middle" >N</text>
<text x="858.33" y="1028.04" font-family="Liberation Serif" font-weight="bold" font-size="34.89" text-anchor="middle" >H</text>
<text x="652.3" y="1096.23" font-family="Liberation Serif" font-weight="bold" font-size="34.89" text-anchor="middle" >N</text>
<line x1="2211.7" y1="919.8" x2="2280.12" y2="959.3" stroke="#1a1a1a" stroke-width="1.9" />
<line x1="2280.12" y1="959.3" x2="2280.12" y2="1038.3" stroke="#1a1a1a" stroke-width="1.9" />
<line x1="2280.12" y1="1038.3" x2="2228.12" y2="1068.32" stroke="#1a1a1a" stroke-width="1.9" />
<line x1="2195.28" y1="1068.32" x2="2143.28" y2="1038.3" stroke="#1a1a1a" stroke-width="1.9" />
<line x1="2143.28" y1="1038.3" x2="2143.28" y2="959.3" stroke="#1a1a1a" stroke-width="1.9" />
<line x1="2143.28" y1="959.3" x2="2211.7" y2="919.8" stroke="#1a1a1a" stroke-width="1.9" />
<line x1="2214.77" y1="933.43" x2="2266.77" y2="963.45" stroke="#1a1a1a" stroke-width="1.9" />
<line x1="2153.55" y1="968.78" x2="2153.55" y2="1028.82" stroke="#1a1a1a" stroke-width="1.9" />
<line x1="2227.09" y1="1057.06" x2="2266.77" y2="1034.15" stroke="#1a1a1a" stroke-width="1.9" />
<line x1="2143.28" y1="1038.3" x2="2074.87" y2="1077.8" stroke="#1a1a1a" stroke-width="1.9" />
<line x1="2074.87" y1="1077.8" x2="2022.87" y2="1047.78" stroke="#1a1a1a" stroke-width="1.9" />
<line x1="1990.03" y1="1047.78" x2="1938.04" y2="1077.8" stroke="#1a1a1a" stroke-width="1.9" />
<line x1="2070.13" y1="1077.8" x2="2070.13" y2="1137.84" stroke="#1a1a1a" stroke-width="1.9" />
<line x1="2079.61" y1="1077.8" x2="2079.61" y2="1137.84" stroke="#1a1a1a" stroke-width="1.9" />
<path d="M1938.04,1077.8 Q1933.1,1066.74 1928.16,1077.8 Q1923.22,1088.86 1918.29,1077.8 Q1913.35,1066.74 1908.41,1077.8 Q1903.47,1088.86 1898.54,1077.8 Q1893.6,1066.74 1888.66,1077.8 Q1883.72,1088.86 1878.79,1077.8 Q1873.85,1066.74 1868.91,1077.8 Q1863.97,1088.86 1859.04,1077.8" fill="none" stroke="#1a1a1a" stroke-width="1.71"/>
<text x="2074.87" y="1173.34" font-family="Liberation Serif" font-weight="bold" font-size="34.76" text-anchor="middle" >O</text>
<text x="2006.45" y="1051.68" font-family="Liberation Serif" font-weight="bold" font-size="34.76" text-anchor="middle" >N</text>
<text x="2006.45" y="1023.24" font-family="Liberation Serif" font-weight="bold" font-size="34.76" text-anchor="middle" >H</text>
<line x1="2280.12" y1="1038.3" x2="2348.53" y2="1077.8" stroke="#1a1a1a" stroke-width="1.9" />
<line x1="2348.53" y1="1077.8" x2="2400.53" y2="1047.78" stroke="#1a1a1a" stroke-width="1.9" />
<line x1="2433.37" y1="1047.78" x2="2485.36" y2="1077.8" stroke="#1a1a1a" stroke-width="1.9" />
<line x1="2343.79" y1="1077.8" x2="2343.79" y2="1137.84" stroke="#1a1a1a" stroke-width="1.9" />
<line x1="2353.27" y1="1077.8" x2="2353.27" y2="1137.84" stroke="#1a1a1a" stroke-width="1.9" />
<path d="M2485.36,1077.8 Q2490.3,1066.74 2495.24,1077.8 Q2500.18,1088.86 2505.11,1077.8 Q2510.05,1066.74 2514.99,1077.8 Q2519.93,1088.86 2524.86,1077.8 Q2529.8,1066.74 2534.74,1077.8 Q2539.68,1088.86 2544.61,1077.8 Q2549.55,1066.74 2554.49,1077.8 Q2559.43,1088.86 2564.36,1077.8" fill="none" stroke="#1a1a1a" stroke-width="1.71"/>
<text x="2348.53" y="1173.34" font-family="Liberation Serif" font-weight="bold" font-size="34.76" text-anchor="middle" >O</text>
<text x="2416.95" y="1051.68" font-family="Liberation Serif" font-weight="bold" font-size="34.76" text-anchor="middle" >N</text>
<text x="2416.95" y="1023.24" font-family="Liberation Serif" font-weight="bold" font-size="34.76" text-anchor="middle" >H</text>
<text x="2211.7" y="1091.18" font-family="Liberation Serif" font-weight="bold" font-size="34.76" text-anchor="middle" >N</text>
<line x1="635.4" y1="1707.9" x2="699.05" y2="1744.65" stroke="#1a1a1a" stroke-width="1.76" />
<line x1="699.05" y1="1744.65" x2="699.05" y2="1818.15" stroke="#1a1a1a" stroke-width="1.76" />
<line x1="699.05" y1="1818.15" x2="650.68" y2="1846.08" stroke="#1a1a1a" stroke-width="1.76" />
<line x1="620.12" y1="1846.08" x2="571.75" y2="1818.15" stroke="#1a1a1a" stroke-width="1.76" />
<line x1="571.75" y1="1818.15" x2="571.75" y2="1744.65" stroke="#1a1a1a" stroke-width="1.76" />
<line x1="571.75" y1="1744.65" x2="635.4" y2="1707.9" stroke="#1a1a1a" stroke-width="1.76" />
<line x1="638.26" y1="1720.58" x2="686.64" y2="1748.51" stroke="#1a1a1a" stroke-width="1.76" />
<line x1="581.3" y1="1753.47" x2="581.3" y2="1809.33" stroke="#1a1a1a" stroke-width="1.76" />
<line x1="649.72" y1="1835.6" x2="686.64" y2="1814.29" stroke="#1a1a1a" stroke-width="1.76" />
<line x1="571.75" y1="1818.15" x2="508.09" y2="1854.9" stroke="#1a1a1a" stroke-width="1.76" />
<line x1="508.09" y1="1854.9" x2="459.72" y2="1826.97" stroke="#1a1a1a" stroke-width="1.76" />
<line x1="429.16" y1="1826.97" x2="380.79" y2="1854.9" stroke="#1a1a1a" stroke-width="1.76" />
<line x1="503.68" y1="1854.9" x2="503.68" y2="1910.76" stroke="#1a1a1a" stroke-width="1.76" />
<line x1="512.5" y1="1854.9" x2="512.5" y2="1910.76" stroke="#1a1a1a" stroke-width="1.76" />
<path d="M380.79,1854.9 Q376.19,1844.61 371.6,1854.9 Q367.01,1865.19 362.41,1854.9 Q357.82,1844.61 353.23,1854.9 Q348.63,1865.19 344.04,1854.9 Q339.44,1844.61 334.85,1854.9 Q330.26,1865.19 325.66,1854.9 Q321.07,1844.61 316.48,1854.9 Q311.88,1865.19 307.29,1854.9" fill="none" stroke="#1a1a1a" stroke-width="1.59"/>
<text x="508.09" y="1943.79" font-family="Liberation Serif" font-weight="bold" font-size="32.34" text-anchor="middle" >O</text>
<text x="444.44" y="1830.6" font-family="Liberation Serif" font-weight="bold" font-size="32.34" text-anchor="middle" >N</text>
<text x="444.44" y="1804.14" font-family="Liberation Serif" font-weight="bold" font-size="32.34" text-anchor="middle" >H</text>
<line x1="699.05" y1="1818.15" x2="762.71" y2="1854.9" stroke="#1a1a1a" stroke-width="1.76" />
<line x1="762.71" y1="1854.9" x2="811.08" y2="1826.97" stroke="#1a1a1a" stroke-width="1.76" />
<line x1="841.64" y1="1826.97" x2="890.01" y2="1854.9" stroke="#1a1a1a" stroke-width="1.76" />
<line x1="758.3" y1="1854.9" x2="758.3" y2="1910.76" stroke="#1a1a1a" stroke-width="1.76" />
<line x1="767.12" y1="1854.9" x2="767.12" y2="1910.76" stroke="#1a1a1a" stroke-width="1.76" />
<path d="M890.01,1854.9 Q894.61,1844.61 899.2,1854.9 Q903.79,1865.19 908.39,1854.9 Q912.98,1844.61 917.57,1854.9 Q922.17,1865.19 926.76,1854.9 Q931.36,1844.61 935.95,1854.9 Q940.54,1865.19 945.14,1854.9 Q949.73,1844.61 954.32,1854.9 Q958.92,1865.19 963.51,1854.9" fill="none" stroke="#1a1a1a" stroke-width="1.59"/>
<text x="762.71" y="1943.79" font-family="Liberation Serif" font-weight="bold" font-size="32.34" text-anchor="middle" >O</text>
<text x="826.36" y="1830.6" font-family="Liberation Serif" font-weight="bold" font-size="32.34" text-anchor="middle" >N</text>
<text x="826.36" y="1804.14" font-family="Liberation Serif" font-weight="bold" font-size="32.34" text-anchor="middle" >H</text>
<text x="635.4" y="1867.35" font-family="Liberation Serif" font-weight="bold" font-size="32.34" text-anchor="middle" >N</text>
<line x1="628.9" y1="2340.4" x2="691.77" y2="2304.1" stroke="#1a1a1a" stroke-width="1.74" />
<line x1="691.77" y1="2304.1" x2="691.77" y2="2231.5" stroke="#1a1a1a" stroke-width="1.74" />
<line x1="691.77" y1="2231.5" x2="643.99" y2="2203.91" stroke="#1a1a1a" stroke-width="1.74" />
<line x1="613.81" y1="2203.91" x2="566.03" y2="2231.5" stroke="#1a1a1a" stroke-width="1.74" />
<line x1="566.03" y1="2231.5" x2="566.03" y2="2304.1" stroke="#1a1a1a" stroke-width="1.74" />
<line x1="566.03" y1="2304.1" x2="628.9" y2="2340.4" stroke="#1a1a1a" stroke-width="1.74" />
<line x1="631.73" y1="2327.87" x2="679.51" y2="2300.28" stroke="#1a1a1a" stroke-width="1.74" />
<line x1="575.46" y1="2295.39" x2="575.46" y2="2240.21" stroke="#1a1a1a" stroke-width="1.74" />
<line x1="643.04" y1="2214.26" x2="679.51" y2="2235.32" stroke="#1a1a1a" stroke-width="1.74" />
<line x1="566.03" y1="2231.5" x2="503.15" y2="2195.2" stroke="#1a1a1a" stroke-width="1.74" />
<line x1="503.15" y1="2195.2" x2="455.37" y2="2222.79" stroke="#1a1a1a" stroke-width="1.74" />
<line x1="425.19" y1="2222.79" x2="377.41" y2="2195.2" stroke="#1a1a1a" stroke-width="1.74" />
<line x1="498.8" y1="2195.2" x2="498.8" y2="2140.02" stroke="#1a1a1a" stroke-width="1.74" />
<line x1="507.51" y1="2195.2" x2="507.51" y2="2140.02" stroke="#1a1a1a" stroke-width="1.74" />
<path d="M377.41,2195.2 Q372.87,2185.04 368.33,2195.2 Q363.79,2205.36 359.26,2195.2 Q354.72,2185.04 350.18,2195.2 Q345.64,2205.36 341.11,2195.2 Q336.57,2185.04 332.03,2195.2 Q327.49,2205.36 322.96,2195.2 Q318.42,2185.04 313.88,2195.2 Q309.34,2205.36 304.81,2195.2" fill="none" stroke="#1a1a1a" stroke-width="1.57"/>
<text x="503.15" y="2130.73" font-family="Liberation Serif" font-weight="bold" font-size="31.94" text-anchor="middle" >O</text>
<text x="440.28" y="2241.08" font-family="Liberation Serif" font-weight="bold" font-size="31.94" text-anchor="middle" >N</text>
<text x="440.28" y="2267.22" font-family="Liberation Serif" font-weight="bold" font-size="31.94" text-anchor="middle" >H</text>
<line x1="691.77" y1="2231.5" x2="754.65" y2="2195.2" stroke="#1a1a1a" stroke-width="1.74" />
<line x1="754.65" y1="2195.2" x2="802.43" y2="2222.79" stroke="#1a1a1a" stroke-width="1.74" />
<line x1="832.61" y1="2222.79" x2="880.39" y2="2195.2" stroke="#1a1a1a" stroke-width="1.74" />
<line x1="750.29" y1="2195.2" x2="750.29" y2="2140.02" stroke="#1a1a1a" stroke-width="1.74" />
<line x1="759" y1="2195.2" x2="759" y2="2140.02" stroke="#1a1a1a" stroke-width="1.74" />
<path d="M880.39,2195.2 Q884.93,2185.04 889.47,2195.2 Q894.01,2205.36 898.54,2195.2 Q903.08,2185.04 907.62,2195.2 Q912.16,2205.36 916.69,2195.2 Q921.23,2185.04 925.77,2195.2 Q930.31,2205.36 934.84,2195.2 Q939.38,2185.04 943.92,2195.2 Q948.46,2205.36 952.99,2195.2" fill="none" stroke="#1a1a1a" stroke-width="1.57"/>
<text x="754.65" y="2130.73" font-family="Liberation Serif" font-weight="bold" font-size="31.94" text-anchor="middle" >O</text>
<text x="817.52" y="2241.08" font-family="Liberation Serif" font-weight="bold" font-size="31.94" text-anchor="middle" >N</text>
<text x="817.52" y="2267.22" font-family="Liberation Serif" font-weight="bold" font-size="31.94" text-anchor="middle" >H</text>
<text x="628.9" y="2204.78" font-family="Liberation Serif" font-weight="bold" font-size="31.94" text-anchor="middle" >N</text>
<line x1="1528.9" y1="1702.5" x2="1597.4" y2="1742.05" stroke="#1a1a1a" stroke-width="1.9" />
<line x1="1597.4" y1="1742.05" x2="1597.4" y2="1821.15" stroke="#1a1a1a" stroke-width="1.9" />
<line x1="1597.4" y1="1821.15" x2="1545.34" y2="1851.21" stroke="#1a1a1a" stroke-width="1.9" />
<line x1="1512.46" y1="1851.21" x2="1460.4" y2="1821.15" stroke="#1a1a1a" stroke-width="1.9" />
<line x1="1460.4" y1="1821.15" x2="1460.4" y2="1742.05" stroke="#1a1a1a" stroke-width="1.9" />
<line x1="1460.4" y1="1742.05" x2="1528.9" y2="1702.5" stroke="#1a1a1a" stroke-width="1.9" />
<line x1="1531.98" y1="1716.15" x2="1584.04" y2="1746.21" stroke="#1a1a1a" stroke-width="1.9" />
<line x1="1470.68" y1="1751.54" x2="1470.68" y2="1811.66" stroke="#1a1a1a" stroke-width="1.9" />
<line x1="1544.31" y1="1839.93" x2="1584.04" y2="1816.99" stroke="#1a1a1a" stroke-width="1.9" />
<line x1="1460.4" y1="1821.15" x2="1391.89" y2="1860.7" stroke="#1a1a1a" stroke-width="1.9" />
<line x1="1391.89" y1="1860.7" x2="1339.83" y2="1830.64" stroke="#1a1a1a" stroke-width="1.9" />
<line x1="1306.95" y1="1830.64" x2="1254.89" y2="1860.7" stroke="#1a1a1a" stroke-width="1.9" />
<line x1="1387.15" y1="1860.7" x2="1387.15" y2="1920.82" stroke="#1a1a1a" stroke-width="1.9" />
<line x1="1396.64" y1="1860.7" x2="1396.64" y2="1920.82" stroke="#1a1a1a" stroke-width="1.9" />
<path d="M1254.89,1860.7 Q1249.95,1849.63 1245,1860.7 Q1240.06,1871.77 1235.11,1860.7 Q1230.17,1849.63 1225.23,1860.7 Q1220.28,1871.77 1215.34,1860.7 Q1210.4,1849.63 1205.45,1860.7 Q1200.51,1871.77 1195.56,1860.7 Q1190.62,1849.63 1185.68,1860.7 Q1180.73,1871.77 1175.79,1860.7" fill="none" stroke="#1a1a1a" stroke-width="1.71"/>
<text x="1391.89" y="1956.36" font-family="Liberation Serif" font-weight="bold" font-size="34.8" text-anchor="middle" >O</text>
<text x="1323.39" y="1834.55" font-family="Liberation Serif" font-weight="bold" font-size="34.8" text-anchor="middle" >N</text>
<text x="1323.39" y="1806.07" font-family="Liberation Serif" font-weight="bold" font-size="34.8" text-anchor="middle" >H</text>
<line x1="1597.4" y1="1821.15" x2="1665.91" y2="1860.7" stroke="#1a1a1a" stroke-width="1.9" />
<line x1="1665.91" y1="1860.7" x2="1717.97" y2="1830.64" stroke="#1a1a1a" stroke-width="1.9" />
<line x1="1750.85" y1="1830.64" x2="1802.91" y2="1860.7" stroke="#1a1a1a" stroke-width="1.9" />
<line x1="1661.16" y1="1860.7" x2="1661.16" y2="1920.82" stroke="#1a1a1a" stroke-width="1.9" />
<line x1="1670.65" y1="1860.7" x2="1670.65" y2="1920.82" stroke="#1a1a1a" stroke-width="1.9" />
<path d="M1802.91,1860.7 Q1807.85,1849.63 1812.8,1860.7 Q1817.74,1871.77 1822.69,1860.7 Q1827.63,1849.63 1832.57,1860.7 Q1837.52,1871.77 1842.46,1860.7 Q1847.4,1849.63 1852.35,1860.7 Q1857.29,1871.77 1862.24,1860.7 Q1867.18,1849.63 1872.12,1860.7 Q1877.07,1871.77 1882.01,1860.7" fill="none" stroke="#1a1a1a" stroke-width="1.71"/>
<text x="1665.91" y="1956.36" font-family="Liberation Serif" font-weight="bold" font-size="34.8" text-anchor="middle" >O</text>
<text x="1734.41" y="1834.55" font-family="Liberation Serif" font-weight="bold" font-size="34.8" text-anchor="middle" >N</text>
<text x="1734.41" y="1806.07" font-family="Liberation Serif" font-weight="bold" font-size="34.8" text-anchor="middle" >H</text>
<text x="1528.9" y="1874.1" font-family="Liberation Serif" font-weight="bold" font-size="34.8" text-anchor="middle" >N</text>
<line x1="1842.8" y1="2337.1" x2="1775.42" y2="2298.2" stroke="#1a1a1a" stroke-width="1.87" />
<line x1="1775.42" y1="2298.2" x2="1775.42" y2="2220.4" stroke="#1a1a1a" stroke-width="1.87" />
<line x1="1775.42" y1="2220.4" x2="1826.63" y2="2190.84" stroke="#1a1a1a" stroke-width="1.87" />
<line x1="1858.97" y1="2190.84" x2="1910.18" y2="2220.4" stroke="#1a1a1a" stroke-width="1.87" />
<line x1="1910.18" y1="2220.4" x2="1910.18" y2="2298.2" stroke="#1a1a1a" stroke-width="1.87" />
<line x1="1910.18" y1="2298.2" x2="1842.8" y2="2337.1" stroke="#1a1a1a" stroke-width="1.87" />
<line x1="1839.77" y1="2323.67" x2="1788.57" y2="2294.11" stroke="#1a1a1a" stroke-width="1.87" />
<line x1="1900.06" y1="2288.86" x2="1900.06" y2="2229.74" stroke="#1a1a1a" stroke-width="1.87" />
<line x1="1827.64" y1="2201.93" x2="1788.57" y2="2224.49" stroke="#1a1a1a" stroke-width="1.87" />
<line x1="1910.18" y1="2220.4" x2="1977.55" y2="2181.5" stroke="#1a1a1a" stroke-width="1.87" />
<line x1="1977.55" y1="2181.5" x2="2028.76" y2="2211.06" stroke="#1a1a1a" stroke-width="1.87" />
<line x1="2061.1" y1="2211.06" x2="2112.31" y2="2181.5" stroke="#1a1a1a" stroke-width="1.87" />
<line x1="1972.89" y1="2181.5" x2="1972.89" y2="2122.37" stroke="#1a1a1a" stroke-width="1.87" />
<line x1="1982.22" y1="2181.5" x2="1982.22" y2="2122.37" stroke="#1a1a1a" stroke-width="1.87" />
<path d="M2112.31,2181.5 Q2117.17,2170.61 2122.03,2181.5 Q2126.89,2192.39 2131.76,2181.5 Q2136.62,2170.61 2141.48,2181.5 Q2146.34,2192.39 2151.21,2181.5 Q2156.07,2170.61 2160.93,2181.5 Q2165.79,2192.39 2170.66,2181.5 Q2175.52,2170.61 2180.38,2181.5 Q2185.24,2192.39 2190.11,2181.5" fill="none" stroke="#1a1a1a" stroke-width="1.68"/>
<text x="1977.55" y="2112.41" font-family="Liberation Serif" font-weight="bold" font-size="34.23" text-anchor="middle" >O</text>
<text x="2044.93" y="2230.67" font-family="Liberation Serif" font-weight="bold" font-size="34.23" text-anchor="middle" >N</text>
<text x="2044.93" y="2258.68" font-family="Liberation Serif" font-weight="bold" font-size="34.23" text-anchor="middle" >H</text>
<line x1="1775.42" y1="2220.4" x2="1708.05" y2="2181.5" stroke="#1a1a1a" stroke-width="1.87" />
<line x1="1708.05" y1="2181.5" x2="1656.84" y2="2211.06" stroke="#1a1a1a" stroke-width="1.87" />
<line x1="1624.5" y1="2211.06" x2="1573.29" y2="2181.5" stroke="#1a1a1a" stroke-width="1.87" />
<line x1="1703.38" y1="2181.5" x2="1703.38" y2="2122.37" stroke="#1a1a1a" stroke-width="1.87" />
<line x1="1712.71" y1="2181.5" x2="1712.71" y2="2122.37" stroke="#1a1a1a" stroke-width="1.87" />
<path d="M1573.29,2181.5 Q1568.43,2170.61 1563.57,2181.5 Q1558.71,2192.39 1553.84,2181.5 Q1548.98,2170.61 1544.12,2181.5 Q1539.26,2192.39 1534.39,2181.5 Q1529.53,2170.61 1524.67,2181.5 Q1519.81,2192.39 1514.94,2181.5 Q1510.08,2170.61 1505.22,2181.5 Q1500.36,2192.39 1495.49,2181.5" fill="none" stroke="#1a1a1a" stroke-width="1.68"/>
<text x="1708.05" y="2112.41" font-family="Liberation Serif" font-weight="bold" font-size="34.23" text-anchor="middle" >O</text>
<text x="1640.67" y="2230.67" font-family="Liberation Serif" font-weight="bold" font-size="34.23" text-anchor="middle" >N</text>
<text x="1640.67" y="2258.68" font-family="Liberation Serif" font-weight="bold" font-size="34.23" text-anchor="middle" >H</text>
<text x="1842.8" y="2191.77" font-family="Liberation Serif" font-weight="bold" font-size="34.23" text-anchor="middle" >N</text>
<line x1="2200" y1="1737" x2="2268.94" y2="1776.8" stroke="#1a1a1a" stroke-width="1.91" />
<line x1="2268.94" y1="1776.8" x2="2268.94" y2="1856.4" stroke="#1a1a1a" stroke-width="1.91" />
<line x1="2268.94" y1="1856.4" x2="2216.54" y2="1886.65" stroke="#1a1a1a" stroke-width="1.91" />
<line x1="2183.46" y1="1886.65" x2="2131.06" y2="1856.4" stroke="#1a1a1a" stroke-width="1.91" />
<line x1="2131.06" y1="1856.4" x2="2131.06" y2="1776.8" stroke="#1a1a1a" stroke-width="1.91" />
<line x1="2131.06" y1="1776.8" x2="2200" y2="1737" stroke="#1a1a1a" stroke-width="1.91" />
<line x1="2203.1" y1="1750.74" x2="2255.49" y2="1780.99" stroke="#1a1a1a" stroke-width="1.91" />
<line x1="2141.41" y1="1786.35" x2="2141.41" y2="1846.85" stroke="#1a1a1a" stroke-width="1.91" />
<line x1="2215.51" y1="1875.3" x2="2255.49" y2="1852.21" stroke="#1a1a1a" stroke-width="1.91" />
<line x1="2131.06" y1="1856.4" x2="2062.13" y2="1896.2" stroke="#1a1a1a" stroke-width="1.91" />
<line x1="2062.13" y1="1896.2" x2="2009.74" y2="1865.95" stroke="#1a1a1a" stroke-width="1.91" />
<line x1="1976.65" y1="1865.95" x2="1944.94" y2="1884.26" stroke="#1a1a1a" stroke-width="1.91" />
<line x1="2057.35" y1="1896.2" x2="2057.35" y2="1956.7" stroke="#1a1a1a" stroke-width="1.91" />
<line x1="2066.9" y1="1896.2" x2="2066.9" y2="1956.7" stroke="#1a1a1a" stroke-width="1.91" />
<path d="M1944.94,1884.26 Q1939.96,1873.12 1934.99,1884.26 Q1930.01,1895.4 1925.04,1884.26 Q1920.06,1873.12 1915.09,1884.26 Q1910.11,1895.4 1905.14,1884.26 Q1900.16,1873.12 1895.19,1884.26 Q1890.21,1895.4 1885.24,1884.26 Q1880.26,1873.12 1875.29,1884.26 Q1870.31,1895.4 1865.34,1884.26" fill="none" stroke="#1a1a1a" stroke-width="1.72"/>
<text x="2062.13" y="1992.47" font-family="Liberation Serif" font-weight="bold" font-size="35.02" text-anchor="middle" >O</text>
<text x="1993.19" y="1869.88" font-family="Liberation Serif" font-weight="bold" font-size="35.02" text-anchor="middle" >N</text>
<text x="1993.19" y="1841.23" font-family="Liberation Serif" font-weight="bold" font-size="35.02" text-anchor="middle" >H</text>
<line x1="2268.94" y1="1856.4" x2="2337.87" y2="1896.2" stroke="#1a1a1a" stroke-width="1.91" />
<line x1="2337.87" y1="1896.2" x2="2390.26" y2="1865.95" stroke="#1a1a1a" stroke-width="1.91" />
<line x1="2423.35" y1="1865.95" x2="2475.74" y2="1896.2" stroke="#1a1a1a" stroke-width="1.91" />
<line x1="2333.1" y1="1896.2" x2="2333.1" y2="1956.7" stroke="#1a1a1a" stroke-width="1.91" />
<line x1="2342.65" y1="1896.2" x2="2342.65" y2="1956.7" stroke="#1a1a1a" stroke-width="1.91" />
<path d="M2475.74,1896.2 Q2480.72,1885.06 2485.69,1896.2 Q2490.67,1907.34 2495.64,1896.2 Q2500.62,1885.06 2505.59,1896.2 Q2510.57,1907.34 2515.54,1896.2 Q2520.52,1885.06 2525.49,1896.2 Q2530.47,1907.34 2535.44,1896.2 Q2540.42,1885.06 2545.39,1896.2 Q2550.37,1907.34 2555.34,1896.2" fill="none" stroke="#1a1a1a" stroke-width="1.72"/>
<text x="2337.87" y="1992.47" font-family="Liberation Serif" font-weight="bold" font-size="35.02" text-anchor="middle" >O</text>
<text x="2406.81" y="1869.88" font-family="Liberation Serif" font-weight="bold" font-size="35.02" text-anchor="middle" >N</text>
<text x="2406.81" y="1841.23" font-family="Liberation Serif" font-weight="bold" font-size="35.02" text-anchor="middle" >H</text>
<text x="2200" y="1909.68" font-family="Liberation Serif" font-weight="bold" font-size="35.02" text-anchor="middle" >N</text>
<line x1="3069.3" y1="1844" x2="3106.97" y2="1865.75" stroke="#1a1a1a" stroke-width="1.6" />
<line x1="3106.97" y1="1865.75" x2="3106.97" y2="1909.25" stroke="#1a1a1a" stroke-width="1.6" />
<line x1="3106.97" y1="1909.25" x2="3078.34" y2="1925.78" stroke="#1a1a1a" stroke-width="1.6" />
<line x1="3060.26" y1="1925.78" x2="3031.63" y2="1909.25" stroke="#1a1a1a" stroke-width="1.6" />
<line x1="3031.63" y1="1909.25" x2="3031.63" y2="1865.75" stroke="#1a1a1a" stroke-width="1.6" />
<line x1="3031.63" y1="1865.75" x2="3069.3" y2="1844" stroke="#1a1a1a" stroke-width="1.6" />
<line x1="3070.99" y1="1851.51" x2="3099.62" y2="1868.04" stroke="#1a1a1a" stroke-width="1.6" />
<line x1="3037.28" y1="1870.97" x2="3037.28" y2="1904.03" stroke="#1a1a1a" stroke-width="1.6" />
<line x1="3077.77" y1="1919.58" x2="3099.62" y2="1906.96" stroke="#1a1a1a" stroke-width="1.6" />
<line x1="3031.63" y1="1909.25" x2="2993.96" y2="1931" stroke="#1a1a1a" stroke-width="1.6" />
<line x1="2993.96" y1="1931" x2="2965.32" y2="1914.47" stroke="#1a1a1a" stroke-width="1.6" />
<line x1="2947.24" y1="1914.47" x2="2918.61" y2="1931" stroke="#1a1a1a" stroke-width="1.6" />
<line x1="2991.35" y1="1931" x2="2991.35" y2="1964.06" stroke="#1a1a1a" stroke-width="1.6" />
<line x1="2996.57" y1="1931" x2="2996.57" y2="1964.06" stroke="#1a1a1a" stroke-width="1.6" />
<path d="M2918.61,1931 Q2915.89,1924.91 2913.17,1931 Q2910.46,1937.09 2907.74,1931 Q2905.02,1924.91 2902.3,1931 Q2899.58,1937.09 2896.86,1931 Q2894.14,1924.91 2891.42,1931 Q2888.71,1937.09 2885.99,1931 Q2883.27,1924.91 2880.55,1931 Q2877.83,1937.09 2875.11,1931" fill="none" stroke="#1a1a1a" stroke-width="1.44"/>
<text x="2993.96" y="1983.61" font-family="Liberation Serif" font-weight="bold" font-size="19.14" text-anchor="middle" >O</text>
<text x="2956.28" y="1916.62" font-family="Liberation Serif" font-weight="bold" font-size="19.14" text-anchor="middle" >N</text>
<text x="2956.28" y="1900.96" font-family="Liberation Serif" font-weight="bold" font-size="19.14" text-anchor="middle" >H</text>
<line x1="3106.97" y1="1909.25" x2="3144.64" y2="1931" stroke="#1a1a1a" stroke-width="1.6" />
<line x1="3144.64" y1="1931" x2="3173.28" y2="1914.47" stroke="#1a1a1a" stroke-width="1.6" />
<line x1="3191.36" y1="1914.47" x2="3219.99" y2="1931" stroke="#1a1a1a" stroke-width="1.6" />
<line x1="3142.03" y1="1931" x2="3142.03" y2="1964.06" stroke="#1a1a1a" stroke-width="1.6" />
<line x1="3147.25" y1="1931" x2="3147.25" y2="1964.06" stroke="#1a1a1a" stroke-width="1.6" />
<path d="M3219.99,1931 Q3222.71,1924.91 3225.43,1931 Q3228.14,1937.09 3230.86,1931 Q3233.58,1924.91 3236.3,1931 Q3239.02,1937.09 3241.74,1931 Q3244.46,1924.91 3247.18,1931 Q3249.89,1937.09 3252.61,1931 Q3255.33,1924.91 3258.05,1931 Q3260.77,1937.09 3263.49,1931" fill="none" stroke="#1a1a1a" stroke-width="1.44"/>
<text x="3144.64" y="1983.61" font-family="Liberation Serif" font-weight="bold" font-size="19.14" text-anchor="middle" >O</text>
<text x="3182.32" y="1916.62" font-family="Liberation Serif" font-weight="bold" font-size="19.14" text-anchor="middle" >N</text>
<text x="3182.32" y="1900.96" font-family="Liberation Serif" font-weight="bold" font-size="19.14" text-anchor="middle" >H</text>
<text x="3069.3" y="1938.37" font-family="Liberation Serif" font-weight="bold" font-size="19.14" text-anchor="middle" >N</text>
<circle cx="640.1" cy="1112.4" r="3.6" fill="#000"/>
<circle cx="664.5" cy="1112.4" r="3.6" fill="#000"/>
<circle cx="502.1" cy="1205.8" r="3.6" fill="#000"/>
<circle cx="526.5" cy="1205.8" r="3.6" fill="#000"/>
<circle cx="778.2" cy="1205.8" r="3.6" fill="#000"/>
<circle cx="802.5" cy="1205.8" r="3.6" fill="#000"/>
<text x="602.5" y="1253" font-family="Liberation Serif" font-weight="bold" font-size="63" text-anchor="start" >Eu</text>
<text x="678" y="1227.3" font-family="Liberation Serif" font-weight="bold" font-size="45">3<tspan font-weight="normal">+</tspan></text>
<path d="M649,1126 Q605,1145 625,1193" fill="none" stroke="#1a1a1a" stroke-width="2.0"/>
<polygon points="628.5,1202 616.8,1184.77 623.86,1187.73 627.84,1181.19" fill="#1a1a1a"/>
<path d="M511,1221 Q528,1268 588,1248" fill="none" stroke="#1a1a1a" stroke-width="2.0"/>
<polygon points="596,1244 579.63,1256.87 582.09,1249.62 575.28,1246.11" fill="#1a1a1a"/>
<path d="M782,1224 Q766,1276 708,1252" fill="none" stroke="#1a1a1a" stroke-width="2.0"/>
<polygon points="700.5,1246 720.72,1250.98 713.49,1253.5 714.92,1261.02" fill="#1a1a1a"/>
<circle cx="1992.5" cy="1081.1" r="3.6" fill="#000"/>
<circle cx="2016.2" cy="1081.1" r="3.6" fill="#000"/>
<circle cx="2408" cy="1081.1" r="3.6" fill="#000"/>
<circle cx="2431.6" cy="1081.1" r="3.6" fill="#000"/>
<circle cx="2060.9" cy="1199.5" r="3.6" fill="#000"/>
<circle cx="2086.2" cy="1199.5" r="3.6" fill="#000"/>
<circle cx="2337.6" cy="1199.5" r="3.6" fill="#000"/>
<circle cx="2363" cy="1199.5" r="3.6" fill="#000"/>
<text x="1847" y="1218.1" font-family="Liberation Serif" font-weight="bold" font-size="59" text-anchor="start" >Eu</text>
<text x="1923.2" y="1194.5" font-family="Liberation Serif" font-weight="bold" font-size="42">3<tspan font-weight="normal">+</tspan></text>
<text x="2447.5" y="1199.5" font-family="Liberation Serif" font-weight="bold" font-size="61" text-anchor="start" >Eu</text>
<text x="2525.3" y="1174.2" font-family="Liberation Serif" font-weight="bold" font-size="42">3<tspan font-weight="normal">+</tspan></text>
<path d="M2005,1119 Q2040,1165 1993,1192" fill="none" stroke="#1a1a1a" stroke-width="2.0"/>
<polygon points="1986,1198 1999.06,1181.78 1998.29,1189.4 2005.71,1191.28" fill="#1a1a1a"/>
<path d="M2072,1222 Q2010,1292 1941,1229" fill="none" stroke="#1a1a1a" stroke-width="2.0"/>
<polygon points="1935,1223 1953.24,1233.04 1945.61,1233.61 1945.04,1241.24" fill="#1a1a1a"/>
<path d="M2424,1105 Q2395,1150 2437,1177" fill="none" stroke="#1a1a1a" stroke-width="2.0"/>
<polygon points="2444.5,1182.5 2424.79,1175.78 2432.21,1173.9 2431.44,1166.28" fill="#1a1a1a"/>
<path d="M2363,1224 Q2430,1300 2496,1230" fill="none" stroke="#1a1a1a" stroke-width="2.0"/>
<polygon points="2502,1224 2491.96,1242.24 2491.39,1234.61 2483.76,1234.04" fill="#1a1a1a"/>
<text x="611.7" y="2048.4" font-family="Liberation Serif" font-weight="bold" font-size="57" text-anchor="start" >Eu</text>
<text x="680.9" y="2025.4" font-family="Liberation Serif" font-weight="bold" font-size="37">3<tspan font-weight="normal">+</tspan></text>
<line x1="632.6" y1="1876.3" x2="632.6" y2="1978.9" stroke="#1a1a1a" stroke-width="1.9" />
<polygon points="632.6,1998.9 626.4,1974.9 632.6,1976.82 638.8,1974.9" fill="#1a1a1a"/>
<line x1="521.4" y1="1940.1" x2="590.01" y2="1997.03" stroke="#1a1a1a" stroke-width="1.9" />
<polygon points="605.4,2009.8 582.97,1999.25 588.41,1995.7 590.89,1989.7" fill="#1a1a1a"/>
<line x1="746.8" y1="1940.1" x2="667.57" y2="1998.79" stroke="#1a1a1a" stroke-width="1.9" />
<polygon points="651.5,2010.7 667.09,1991.43 669.24,1997.56 674.48,2001.4" fill="#1a1a1a"/>
<line x1="631.8" y1="2172.3" x2="631.8" y2="2087.3" stroke="#1a1a1a" stroke-width="1.9" />
<polygon points="631.8,2067.3 638,2091.3 631.8,2089.38 625.6,2091.3" fill="#1a1a1a"/>
<line x1="517.2" y1="2109.3" x2="591.1" y2="2057.74" stroke="#1a1a1a" stroke-width="1.9" />
<polygon points="607.5,2046.3 591.36,2065.12 589.39,2058.93 584.27,2054.95" fill="#1a1a1a"/>
<line x1="743.9" y1="2109.3" x2="686.89" y2="2070.21" stroke="#1a1a1a" stroke-width="1.9" />
<polygon points="670.4,2058.9 693.7,2067.36 688.61,2071.39 686.69,2077.59" fill="#1a1a1a"/>
<text x="1819.3" y="2060.5" font-family="Liberation Serif" font-weight="bold" font-size="60" text-anchor="start" >Eu</text>
<text x="1894.5" y="2036.7" font-family="Liberation Serif" font-weight="bold" font-size="38">3<tspan font-weight="normal">+</tspan></text>
<line x1="1744.5" y1="1842.1" x2="1815.93" y2="1994.78" stroke="#1a1a1a" stroke-width="1.9" />
<polygon points="1824.4,2012.9 1808.61,1993.79 1815.04,1992.9 1819.85,1988.53" fill="#1a1a1a"/>
<line x1="1683.9" y1="1952.4" x2="1791.91" y2="2013.81" stroke="#1a1a1a" stroke-width="1.9" />
<polygon points="1809.3,2023.7 1785.37,2017.23 1790.11,2012.79 1791.5,2006.45" fill="#1a1a1a"/>
<line x1="1993.1" y1="1870.2" x2="1872.58" y2="2000.42" stroke="#1a1a1a" stroke-width="1.9" />
<polygon points="1859,2015.1 1870.75,1993.27 1874,1998.89 1879.85,2001.7" fill="#1a1a1a"/>
<line x1="2044.3" y1="1980.5" x2="1957.63" y2="2005.3" stroke="#1a1a1a" stroke-width="1.9" />
<polygon points="1938.4,2010.8 1959.77,1998.24 1959.63,2004.73 1963.18,2010.16" fill="#1a1a1a"/>
<line x1="1841.7" y1="2155.6" x2="1841.7" y2="2097.7" stroke="#1a1a1a" stroke-width="1.9" />
<polygon points="1841.7,2077.7 1847.9,2101.7 1841.7,2099.78 1835.5,2101.7" fill="#1a1a1a"/>
<line x1="1722.9" y1="2092.9" x2="1795.45" y2="2059.3" stroke="#1a1a1a" stroke-width="1.9" />
<polygon points="1813.6,2050.9 1794.43,2066.61 1793.56,2060.18 1789.22,2055.36" fill="#1a1a1a"/>
<line x1="1964.3" y1="2094.3" x2="1917.71" y2="2073.16" stroke="#1a1a1a" stroke-width="1.9" />
<polygon points="1899.5,2064.9 1923.92,2069.17 1919.61,2074.02 1918.79,2080.46" fill="#1a1a1a"/>
<rect x="2647.5" y="1627.5" width="676" height="565" fill="none" stroke="#000" stroke-width="7"/>
<circle cx="2770.7" cy="1754.2" r="29" fill="url(#gr)"/>
<circle cx="2772.3" cy="1910" r="30" fill="url(#gp)"/>
<line x1="2700.8" y1="2091" x2="2873.3" y2="2091" stroke="#4472c4" stroke-width="11" stroke-dasharray="35 11.8"/>
<text x="3024" y="1769" font-family="Liberation Serif" font-weight="bold" font-size="70" text-anchor="start" >Eu</text>
<text x="3111" y="1742" font-family="Liberation Serif" font-weight="bold" font-size="52">3<tspan font-weight="normal">+</tspan></text>
<text x="3112.2" y="2074.8" font-family="Liberation Serif" font-weight="bold" font-size="28" text-anchor="middle" letter-spacing="1.4">coordinate</text>
<text x="3111.6" y="2111" font-family="Liberation Serif" font-weight="bold" font-size="28" text-anchor="middle" letter-spacing="1.4">covalent bonds</text>
</svg></body></html>
